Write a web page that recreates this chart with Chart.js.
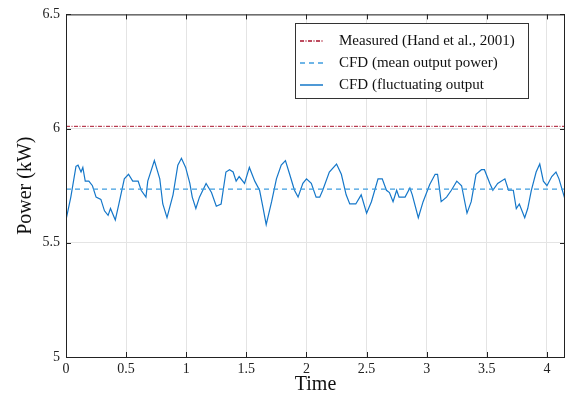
<!DOCTYPE html>
<html lang="en">
<head>
<meta charset="UTF-8">
<title>Power output</title>
<script src="https://cdn.jsdelivr.net/npm/chart.js"></script>
<style>
  html, body { margin: 0; padding: 0; background: #fff; }
  #wrap { width: 580px; height: 397px; }
</style>
</head>
<body>
<div id="wrap"><canvas id="powerChart" width="580" height="397"></canvas></div>
<script>
// fluctuating CFD output (time, kW)
const times = [0, 0.04, 0.083, 0.1, 0.125, 0.14, 0.16, 0.19, 0.22, 0.25, 0.29, 0.32, 0.35, 0.37, 0.41, 0.44, 0.485, 0.52, 0.555, 0.6, 0.625, 0.665, 0.68, 0.735, 0.78, 0.805, 0.84, 0.89, 0.93, 0.96, 0.995, 1.03, 1.05, 1.08, 1.11, 1.165, 1.21, 1.25, 1.29, 1.33, 1.36, 1.39, 1.415, 1.44, 1.485, 1.525, 1.57, 1.61, 1.64, 1.665, 1.71, 1.75, 1.79, 1.825, 1.86, 1.9, 1.93, 1.97, 2.0, 2.04, 2.08, 2.11, 2.135, 2.19, 2.25, 2.29, 2.33, 2.36, 2.41, 2.455, 2.5, 2.54, 2.595, 2.63, 2.665, 2.69, 2.72, 2.75, 2.77, 2.82, 2.86, 2.88, 2.93, 2.97, 3.025, 3.07, 3.09, 3.12, 3.165, 3.205, 3.25, 3.29, 3.335, 3.37, 3.41, 3.455, 3.48, 3.525, 3.55, 3.59, 3.65, 3.68, 3.72, 3.745, 3.77, 3.815, 3.84, 3.87, 3.91, 3.94, 3.97, 4.0, 4.04, 4.075, 4.1, 4.15];
const power = [5.60, 5.70, 5.835, 5.84, 5.81, 5.83, 5.77, 5.77, 5.75, 5.70, 5.69, 5.64, 5.62, 5.65, 5.60, 5.67, 5.78, 5.80, 5.77, 5.77, 5.73, 5.70, 5.77, 5.86, 5.78, 5.67, 5.61, 5.71, 5.84, 5.87, 5.83, 5.76, 5.70, 5.65, 5.70, 5.76, 5.72, 5.66, 5.67, 5.81, 5.82, 5.81, 5.77, 5.79, 5.76, 5.83, 5.77, 5.73, 5.65, 5.58, 5.68, 5.78, 5.84, 5.86, 5.80, 5.73, 5.70, 5.76, 5.78, 5.76, 5.70, 5.70, 5.73, 5.81, 5.845, 5.80, 5.71, 5.67, 5.67, 5.71, 5.63, 5.68, 5.78, 5.78, 5.73, 5.72, 5.68, 5.73, 5.70, 5.70, 5.74, 5.71, 5.61, 5.68, 5.755, 5.80, 5.80, 5.68, 5.70, 5.73, 5.77, 5.75, 5.63, 5.68, 5.80, 5.82, 5.82, 5.76, 5.73, 5.76, 5.78, 5.73, 5.73, 5.65, 5.67, 5.61, 5.65, 5.73, 5.81, 5.845, 5.77, 5.75, 5.79, 5.81, 5.78, 5.69];

const measured = 6.01;   // Hand et al., 2001
const cfdMean = 5.735;
const tEnd = 4.15;

const xTicks = [0, 0.5, 1, 1.5, 2, 2.5, 3, 3.5, 4];
const yTicks = [5, 5.5, 6, 6.5];

const legendLabels = ['Measured (Hand et al., 2001)', 'CFD (mean output power)', 'CFD (fluctuating output'];

const serif = '"Liberation Serif", "Times New Roman", serif';
const fmt = v => String(+v.toFixed(2));

// box around the plot, inward ticks, and the legend
const framePlugin = {
  id: 'frame',
  afterDatasetsDraw(chart) {
    const { ctx, chartArea: a, scales } = chart;
    ctx.save();
    ctx.strokeStyle = '#222';
    ctx.lineWidth = 1;
    ctx.strokeRect(a.left + 0.5, a.top + 0.5, a.right - a.left - 1, a.bottom - a.top);
    ctx.beginPath();
    xTicks.forEach(v => {
      const x = Math.round(scales.x.getPixelForValue(v)) + 0.5;
      ctx.moveTo(x, a.bottom); ctx.lineTo(x, a.bottom - 5);
      ctx.moveTo(x, a.top); ctx.lineTo(x, a.top + 5);
    });
    yTicks.forEach(v => {
      const y = Math.round(scales.y.getPixelForValue(v)) + 0.5;
      ctx.moveTo(a.left, y); ctx.lineTo(a.left + 5, y);
      ctx.moveTo(a.right, y); ctx.lineTo(a.right - 5, y);
    });
    ctx.stroke();

    // legend
    const lx = 295, ly = 23, lw = 233, lh = 75;
    ctx.fillStyle = '#fff';
    ctx.fillRect(lx, ly, lw, lh);
    ctx.strokeStyle = '#333';
    ctx.strokeRect(lx + 0.5, ly + 0.5, lw, lh);
    const rows = [41, 63, 85];
    const styles = [
      { color: '#a8102a', dash: [4, 1.5, 1, 1.5] },
      { color: '#3f9de0', dash: [5, 4] },
      { color: '#1577c9', dash: [] }
    ];
    ctx.font = '15px ' + serif;
    ctx.textBaseline = 'middle';
    ctx.lineWidth = 1.5;
    rows.forEach((y, i) => {
      ctx.beginPath();
      ctx.strokeStyle = styles[i].color;
      ctx.setLineDash(styles[i].dash);
      ctx.moveTo(300, y); ctx.lineTo(323, y);
      ctx.stroke();
      ctx.setLineDash([]);
      ctx.fillStyle = '#111';
      ctx.fillText(legendLabels[i], 339, y);
    });
    ctx.restore();
  }
};

new Chart(document.getElementById('powerChart'), {
  type: 'line',
  data: {
    datasets: [
      {
        label: legendLabels[0],
        data: [{ x: 0, y: measured }, { x: tEnd, y: measured }],
        borderColor: '#a8102a',
        borderWidth: 1,
        borderDash: [4, 1.5, 1, 1.5],
        pointRadius: 0
      },
      {
        label: legendLabels[1],
        data: [{ x: 0, y: cfdMean }, { x: tEnd, y: cfdMean }],
        borderColor: '#3f9de0',
        borderWidth: 1.2,
        borderDash: [5, 4],
        pointRadius: 0
      },
      {
        label: legendLabels[2],
        data: times.map((t, i) => ({ x: t, y: power[i] })),
        borderColor: '#1577c9',
        borderWidth: 1.2,
        pointRadius: 0,
        tension: 0
      }
    ]
  },
  options: {
    responsive: false,
    animation: false,
    layout: { padding: { top: 12, right: 15, left: 0, bottom: 0 } },
    plugins: { legend: { display: false }, tooltip: { enabled: false } },
    scales: {
      x: {
        type: 'linear',
        min: 0,
        max: tEnd,
        afterBuildTicks: s => { s.ticks = xTicks.map(v => ({ value: v })); },
        afterFit: s => { s.height = 40; },
        grid: { color: '#e4e4e4', drawTicks: false },
        border: { display: false },
        ticks: { color: '#222', font: { family: serif, size: 14 }, padding: 4, maxRotation: 0, callback: fmt },
        title: { display: true, text: 'Time', color: '#111', font: { family: serif, size: 20 }, padding: { top: -3, bottom: 0 } }
      },
      y: {
        min: 5,
        max: 6.5,
        afterBuildTicks: s => { s.ticks = yTicks.map(v => ({ value: v })); },
        afterFit: s => { s.width = 66; },
        grid: { color: '#e4e4e4', drawTicks: false },
        border: { display: false },
        ticks: { color: '#222', font: { family: serif, size: 14 }, padding: 6, callback: fmt },
        title: { display: true, text: 'Power (kW)', color: '#111', font: { family: serif, size: 20 }, padding: { top: 14, bottom: 4 } }
      }
    }
  },
  plugins: [framePlugin]
});
</script>
</body>
</html>
